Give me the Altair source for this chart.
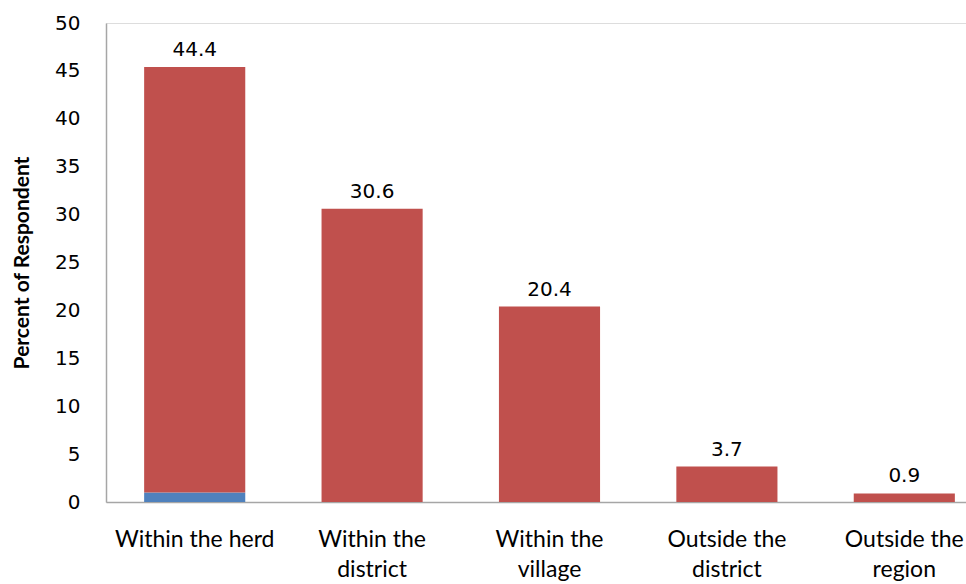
import altair as alt
import pandas as pd

categories = ["Within the herd", "Within the district", "Within the village",
              "Outside the district", "Outside the region"]
axis_labels = ["Within the herd", "Within the\ndistrict", "Within the\nvillage",
               "Outside the\ndistrict", "Outside the\nregion"]
main_values = [44.4, 30.6, 20.4, 3.7, 0.9]
base_values = [1.0, 0.0, 0.0, 0.0, 0.0]
y_ticks = [0, 5, 10, 15, 20, 25, 30, 35, 40, 45, 50]

rows = []
for lab, m, b in zip(axis_labels, main_values, base_values):
    rows.append({"cat": lab, "series": "base", "value": b, "ord": 0})
    rows.append({"cat": lab, "series": "main", "value": m, "ord": 1})
df = pd.DataFrame(rows)

x_enc = alt.X("cat:N", sort=axis_labels,
              scale=alt.Scale(paddingInner=0.43, paddingOuter=0.215, range=[0, 887]),
              axis=alt.Axis(title=None, labelAngle=0, labelExpr="split(datum.label, '\\n')",
                            labelFont="Lato", labelFontSize=23, labelColor="#000000",
                            labelPadding=26, labelLineHeight=30, ticks=False,
                            domainColor="#A6A6A6", domainWidth=1.5, labelBaseline="top"))

bars = alt.Chart(df).mark_bar().encode(
    x=x_enc,
    y=alt.Y("value:Q", stack="zero",
            scale=alt.Scale(domain=[0, 50], nice=False),
            axis=alt.Axis(title="Percent of Respondent", values=y_ticks, grid=False,
                          ticks=False, labelFont="DejaVu Sans", labelFontSize=20,
                          labelColor="#000000", labelPadding=26,
                          titleFont="Lato", titleFontSize=21, titleFontWeight="bold",
                          titleColor="#000000", titlePadding=22,
                          domainColor="#A6A6A6", domainWidth=1.5)),
    color=alt.Color("series:N", scale=alt.Scale(domain=["base", "main"],
                                                range=["#4F81BD", "#C0504D"]), legend=None),
    order=alt.Order("ord:Q"),
)

text = alt.Chart(df).transform_joinaggregate(
    total="sum(value)", groupby=["cat"]
).transform_filter(alt.datum.series == "main").mark_text(
    font="DejaVu Sans", fontSize=20, color="#000000", baseline="bottom", dy=-7
).encode(
    x=alt.X("cat:N", sort=axis_labels),
    y=alt.Y("total:Q"),
    text=alt.Text("value:Q", format=".1f"),
)

chart = alt.layer(bars, text).properties(
    width=860, height=479,
    autosize=alt.AutoSizeParams(type="none"),
    padding={"left": 106, "top": 23, "right": 0, "bottom": 82},
).configure_view(stroke=None).configure(background="#FFFFFF")

chart.save("out.html", embed_options={"renderer": "svg", "actions": False})
